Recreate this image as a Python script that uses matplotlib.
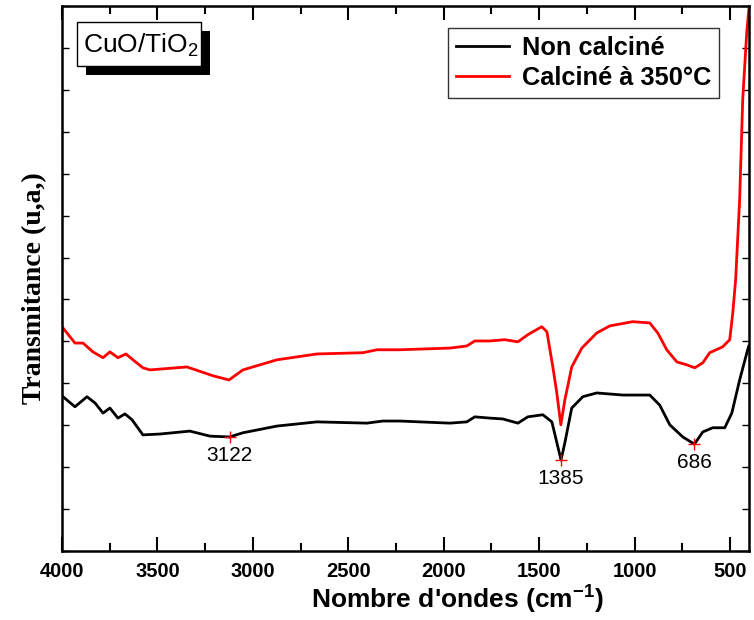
import matplotlib
matplotlib.use('Agg')
import matplotlib.pyplot as plt
from matplotlib.patches import Rectangle
from matplotlib.ticker import MultipleLocator, NullFormatter

plt.rcParams['font.family'] = ['Liberation Sans', 'DejaVu Sans']
plt.rcParams['mathtext.fontset'] = 'custom'
plt.rcParams['mathtext.rm'] = 'Liberation Sans'
plt.rcParams['mathtext.it'] = 'Liberation Sans'
plt.rcParams['mathtext.bf'] = 'Liberation Sans:bold'

# FTIR spectra, wavenumber (cm-1) vs transmittance (a.u.)
wn_raw = [4000, 3932, 3869, 3827, 3785, 3749, 3707, 3670, 3633, 3576, 3487, 3330,
          3225, 3122, 3052, 2874, 2664, 2402, 2319, 2230, 1968, 1879, 1837, 1758,
          1690, 1611, 1559, 1480, 1433, 1385, 1365, 1329, 1271, 1198, 1061, 920,
          868, 815, 747, 686, 642, 590, 527, 490, 449, 407, 401]
t_raw = [3.70, 3.44, 3.68, 3.53, 3.29, 3.41, 3.17, 3.27, 3.13, 2.77, 2.79, 2.86,
         2.74, 2.72, 2.82, 2.98, 3.08, 3.05, 3.10, 3.10, 3.05, 3.08, 3.20, 3.17,
         3.15, 3.05, 3.20, 3.25, 3.08, 2.17, 2.58, 3.41, 3.68, 3.77, 3.72, 3.72,
         3.48, 3.01, 2.72, 2.55, 2.84, 2.94, 2.94, 3.29, 4.08, 4.80, 4.89]

wn_calc = [4000, 3932, 3890, 3838, 3785, 3749, 3707, 3665, 3628, 3576, 3539, 3345,
           3209, 3125, 3052, 2874, 2664, 2423, 2350, 2230, 1968, 1879, 1837, 1758,
           1680, 1611, 1559, 1486, 1459, 1428, 1408, 1386, 1365, 1329, 1276, 1198,
           1129, 1009, 920, 878, 831, 778, 726, 684, 642, 606, 538, 501, 485, 470,
           449, 433, 412, 401]
t_calc = [5.35, 4.96, 4.96, 4.75, 4.61, 4.75, 4.61, 4.70, 4.56, 4.37, 4.32, 4.39,
          4.18, 4.08, 4.32, 4.56, 4.70, 4.73, 4.80, 4.80, 4.84, 4.89, 5.01, 5.01,
          5.04, 4.99, 5.16, 5.35, 5.23, 4.39, 3.80, 3.01, 3.60, 4.39, 4.84, 5.20,
          5.37, 5.47, 5.44, 5.20, 4.80, 4.51, 4.44, 4.37, 4.49, 4.73, 4.87, 5.04,
          5.68, 6.47, 8.38, 10.76, 12.36, 12.91]

# labelled absorption bands on the raw sample
peaks = [3122, 1385, 686]

fig = plt.figure(figsize=(7.54, 6.2), dpi=100)
ax = fig.add_axes([62 / 754, 1 - 551 / 620, 687 / 754, 545 / 620])

ax.plot(wn_raw, t_raw, color='black', lw=2, label='Non calciné')
ax.plot(wn_calc, t_calc, color='red', lw=2, label='Calciné à 350°C')

for p in peaks:
    y = t_raw[wn_raw.index(p)]
    ax.plot(p, y, marker='+', color='red', ms=9, mew=1)
    ax.text(p, y - 0.22, str(p), ha='center', va='top', fontsize=15)

ax.set_xlim(4000, 400)
ax.set_ylim(0, 13)
ax.xaxis.set_major_locator(MultipleLocator(500))
ax.xaxis.set_minor_locator(MultipleLocator(250))
ax.yaxis.set_major_locator(MultipleLocator(1))
ax.yaxis.set_major_formatter(NullFormatter())
ax.tick_params(axis='x', which='major', direction='in', length=10, width=1.5,
               top=True, labelsize=14.5, pad=8)
ax.tick_params(axis='x', which='minor', direction='in', length=6, width=1.5, top=True)
ax.tick_params(axis='y', which='major', direction='in', length=5, width=1, right=True)
for lbl in ax.get_xticklabels():
    lbl.set_fontweight('bold')
for s in ax.spines.values():
    s.set_linewidth(1.8)

ax.set_xlabel("Nombre d'ondes (cm$^{\\mathbf{-1}}$)", fontsize=19, fontweight='bold')
ax.xaxis.set_label_coords((457 - 62) / 687, -0.06)
ax.set_ylabel('Transmitance (u,a,)', fontsize=20, fontweight='bold',
              family='Liberation Serif')
ax.yaxis.set_label_coords(-0.022, (551 - 288) / 545)

leg = ax.legend(loc='upper right', bbox_to_anchor=((719 - 62) / 687, (551 - 28) / 545),
                borderaxespad=0, fancybox=False, frameon=True, handlelength=2.1,
                prop={'weight': 'bold', 'size': 18.3}, borderpad=0.3, labelspacing=0.25,
                handletextpad=0.5)
leg.get_frame().set_edgecolor('black')
leg.get_frame().set_linewidth(1)

# sample tag with drop shadow
W, H = 754, 620
fig.patches.append(Rectangle((86 / W, 1 - 75 / H), 124 / W, 44 / H,
                             transform=fig.transFigure, facecolor='black', zorder=5))
fig.patches.append(Rectangle((77 / W, 1 - 66 / H), 124 / W, 44 / H,
                             transform=fig.transFigure, facecolor='white',
                             edgecolor='black', lw=1, zorder=6))
fig.text(141 / W, 1 - 45 / H, 'CuO/TiO$_2$', ha='center', va='center',
         fontsize=19, zorder=7)

fig.savefig('out.png', dpi=100)
